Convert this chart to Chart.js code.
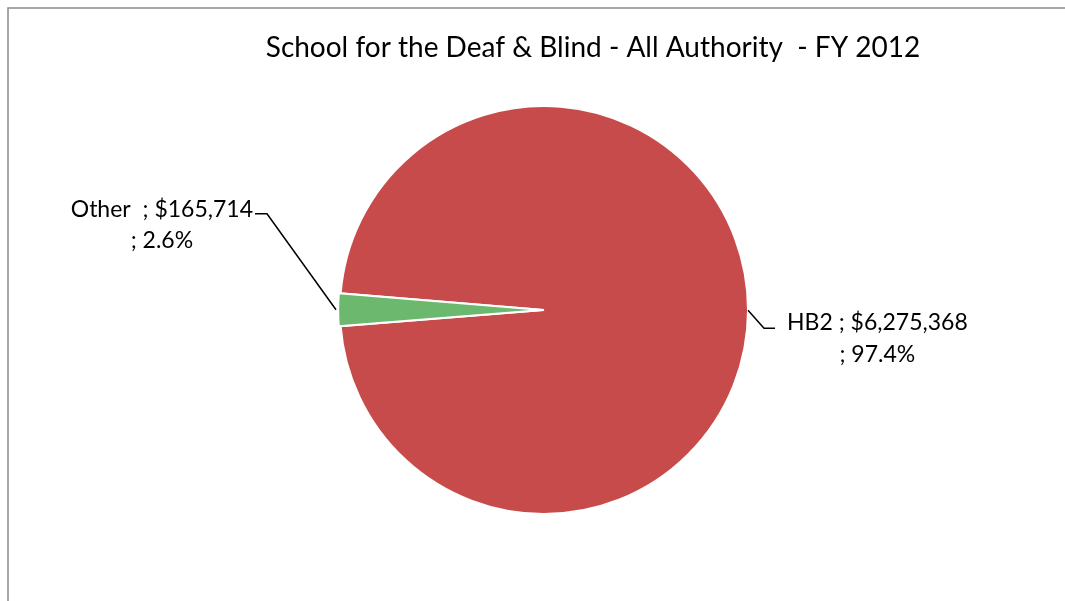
<!DOCTYPE html>
<html>
<head>
<meta charset="utf-8">
<title>School for the Deaf &amp; Blind - All Authority - FY 2012</title>
<script src="https://cdn.jsdelivr.net/npm/chart.js@4"></script>
<style>
  html, body { margin: 0; padding: 0; background: #fff; }
  #wrap { width: 1065px; height: 601px; position: relative; }
</style>
</head>
<body>
<div id="wrap"><canvas id="chart"></canvas></div>
<script>
'use strict';

const chartTitle = 'School for the Deaf & Blind - All Authority  - FY 2012';
const categories = ['HB2', 'Other '];
const amounts = [6275368, 165714];
const percents = ['97.4%', '2.6%'];
const sliceColors = ['#C74B4A', '#6CB86F'];

const FONT = 'Lato, "Open Sans", sans-serif';

function money(v) {
    return '$' + v.toLocaleString('en-US');
}

// frame + title drawn straight onto the canvas
const framePlugin = {
    id: 'frame',
    beforeDraw(chart) {
        const { ctx } = chart;
        ctx.save();
        ctx.strokeStyle = '#8a8a8a';
        ctx.lineWidth = 1.5;
        ctx.strokeRect(8, 8, chart.width + 10, chart.height + 10);
        ctx.fillStyle = '#000';
        ctx.font = '28px ' + FONT;
        ctx.textAlign = 'center';
        ctx.textBaseline = 'alphabetic';
        ctx.fillText(chartTitle, 593, 57);
        ctx.restore();
    }
};

// "name ; $value ; pct" callouts with leader lines
const calloutPlugin = {
    id: 'callouts',
    afterDatasetsDraw(chart) {
        const { ctx } = chart;
        const meta = chart.getDatasetMeta(0);
        ctx.save();
        ctx.font = '23px ' + FONT;
        ctx.fillStyle = '#000';
        ctx.strokeStyle = '#000';
        ctx.lineWidth = 1.5;
        ctx.textAlign = 'center';
        ctx.textBaseline = 'alphabetic';

        meta.data.forEach((arc, i) => {
            const p = arc.getProps(['x', 'y', 'startAngle', 'endAngle', 'outerRadius'], true);
            const mid = (p.startAngle + p.endAngle) / 2;
            const off = chart.data.datasets[0].offset[i] || 0;
            const ex = p.x + Math.cos(mid) * (p.outerRadius + off);
            const ey = p.y + Math.sin(mid) * (p.outerRadius + off);
            const line1 = categories[i] + ' ; ' + money(amounts[i]);
            const line2 = '; ' + percents[i];

            ctx.beginPath();
            if (Math.cos(mid) < 0) {
                // label sits up and to the left
                const bx = ex - 69, by = ey - 96;
                ctx.moveTo(ex, ey);
                ctx.lineTo(bx, by);
                ctx.lineTo(bx - 12, by);
                ctx.stroke();
                const w = ctx.measureText(line1).width;
                const cx = bx - 14 - w / 2;
                ctx.fillText(line1, cx, by + 3);
                ctx.fillText(line2, cx, by + 34);
            } else {
                const bx = ex + 16, by = ey + 18;
                ctx.moveTo(ex, ey);
                ctx.lineTo(bx, by);
                ctx.lineTo(bx + 11, by);
                ctx.stroke();
                const w = ctx.measureText(line1).width;
                const cx = bx + 23 + w / 2;
                ctx.fillText(line1, cx, by + 2);
                ctx.fillText(line2, cx, by + 34);
            }
        });
        ctx.restore();
    }
};

new Chart(document.getElementById('chart'), {
    type: 'pie',
    data: {
        labels: categories,
        datasets: [{
            data: amounts,
            backgroundColor: sliceColors,
            borderColor: '#ffffff',
            borderWidth: 2,
            offset: [0, 4]
        }]
    },
    options: {
        responsive: true,
        maintainAspectRatio: false,
        animation: false,
        rotation: 274.7,
        radius: 204,
        layout: { padding: { left: 323, right: 300, top: 100, bottom: 81 } },
        plugins: {
            legend: { display: false },
            title: { display: false },
            tooltip: { enabled: false }
        }
    },
    plugins: [framePlugin, calloutPlugin]
});
</script>
</body>
</html>
